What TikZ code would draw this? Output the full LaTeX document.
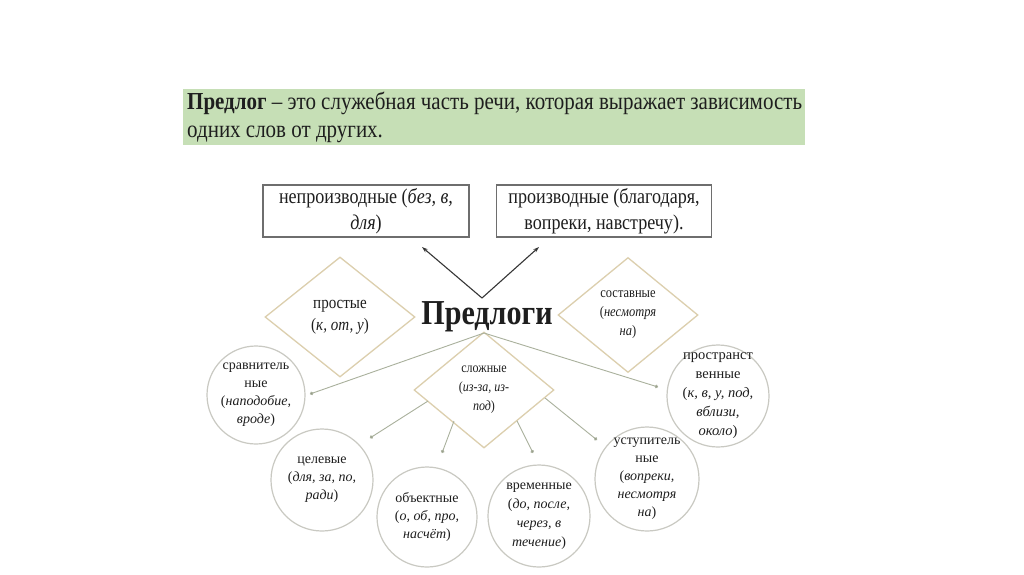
\documentclass[tikz,border=0pt]{standalone}
\usepackage{fontspec}
\setmainfont{Liberation Serif}[FakeStretch=0.86]
\newfontfamily\circfont{Liberation Serif}
\usetikzlibrary{shapes.geometric,arrows.meta}
\definecolor{greenbg}{HTML}{C6DFB6}
\definecolor{boxline}{HTML}{6E6E6E}
\definecolor{dline}{HTML}{DCCFAE}
\definecolor{cline}{HTML}{C9C9C2}
\definecolor{conn}{HTML}{A9B09C}
\definecolor{txt}{HTML}{1E1E1E}
\tikzset{
  topbox/.style={draw=boxline, line width=1.3pt, minimum width=#1, minimum height=52, inner sep=0pt, align=center, text=txt, font=\fontsize{21}{26}\selectfont},
  dia/.style={diamond, draw=dline, line width=1.3pt, inner sep=0pt, align=center, text=txt},
  circ/.style={circle, draw=cline, line width=1.2pt, minimum size=#1, inner sep=0pt},
  ctext/.style={inner sep=0pt, align=center, text=txt, font=\circfont\fontsize{14}{18}\selectfont},
  conline/.style={draw=conn, line width=0.9pt, -{Circle[length=3.5pt,fill=conn!80!black]}},
  blackarrow/.style={draw=txt!90, line width=1.1pt, -{Stealth[length=6pt,width=4pt]}},
}
\begin{document}
\begin{tikzpicture}[x=1pt,y=-1pt]
\useasboundingbox[fill=white] (0,0) rectangle (1024,574);
% definition
\node[fill=greenbg, minimum width=622, minimum height=56, inner sep=0pt] (defbox) at (494,117) {};
\node[anchor=base west, inner sep=0pt, text=txt, font=\fontsize{24.4}{28}\selectfont] (def1) at (187,109) {\textbf{Предлог} – это служебная часть речи, которая выражает зависимость};
\node[anchor=base west, inner sep=0pt, text=txt, font=\fontsize{24.4}{28}\selectfont] (def2) at (187,137) {одних слов от других.};
% top boxes
\node[topbox=206] (nepr) at (366,211) {непроизводные (\textit{без, в,}\\\textit{для})};
\node[topbox=215] (proizv) at (604,211) {производные (благодаря,\\вопреки, навстречу).};
% center
\node[inner sep=0pt, text=txt, font=\fontsize{35}{40}\bfseries] (center) at (487,317) {Предлоги};
\coordinate (apex) at (482,298);
\coordinate (aL) at (422,247);
\coordinate (aR) at (539,247);
\draw[blackarrow] (apex) -- (aL);
\draw[blackarrow] (apex) -- (aR);
% diamonds
\node[dia, minimum width=150, minimum height=120, font=\fontsize{17.5}{22}\selectfont] (prost) at (340,317) {простые\\(\textit{к, от, у})};
\node[dia, minimum width=140, minimum height=115, font=\fontsize{14.5}{19}\selectfont] (sost) at (628,315) {составные\\(\textit{несмотря}\\\textit{на})};
\node[dia, minimum width=140, minimum height=116, font=\fontsize{14}{19}\selectfont] (slozh) at (484,390) {сложные\\(\textit{из-за, из-}\\\textit{под})};
% circles
\node[circ=98] (srav) at (256,395) {};
\node[ctext] (sravT) at (srav.center) {сравнитель\\ные\\(\textit{наподобие,}\\\textit{вроде})};
\node[circ=102] (prostr) at (718,396) {};
\node[ctext, font=\circfont\fontsize{14.5}{19}\selectfont] (prostrT) at (prostr.center) {пространст\\венные\\(\textit{к, в, у, под,}\\\textit{вблизи,}\\\textit{около})};
\node[circ=102] (cel) at (322,480) {};
\node[ctext] (celT) at (cel.center) {целевые\\(\textit{для, за, по,}\\\textit{ради})};
\node[circ=100] (obj) at (427,517) {};
\node[ctext] (objT) at (obj.center) {объектные\\(\textit{о, об, про,}\\\textit{насчёт})};
\node[circ=102] (vrem) at (539,516) {};
\node[ctext, font=\circfont\fontsize{14}{19}\selectfont] (vremT) at (vrem.center) {временные\\(\textit{до, после,}\\\textit{через, в}\\\textit{течение})};
\node[circ=104] (ustup) at (647,479) {};
\node[ctext] (ustupT) at (ustup.center) {уступитель\\ные\\(\textit{вопреки,}\\\textit{несмотря}\\\textit{на})};
% connectors
\coordinate (top) at (484,333);
\coordinate (eSrav) at (310,394);
\coordinate (eProstr) at (658,387);
\coordinate (sCel) at (428,401);
\coordinate (eCel) at (370,438);
\coordinate (sObj) at (454,421);
\coordinate (eObj) at (442,453);
\coordinate (sVrem) at (517,421);
\coordinate (eVrem) at (533,453);
\coordinate (sUst) at (545,398);
\coordinate (eUst) at (597,440);
\draw[conline] (top) -- (eSrav);
\draw[conline] (top) -- (eProstr);
\draw[conline] (sCel) -- (eCel);
\draw[conline] (sObj) -- (eObj);
\draw[conline] (sVrem) -- (eVrem);
\draw[conline] (sUst) -- (eUst);
\end{tikzpicture}
\end{document}
